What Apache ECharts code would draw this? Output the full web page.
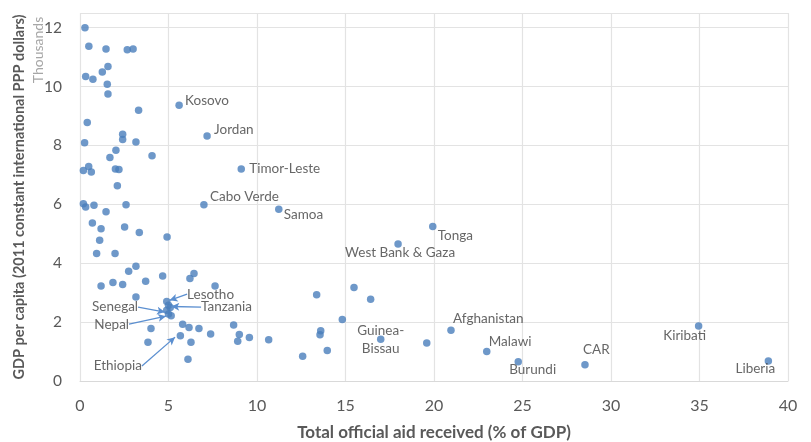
<!DOCTYPE html>
<html>
<head>
<meta charset="utf-8">
<script src="https://cdn.jsdelivr.net/npm/echarts@6/dist/echarts.min.js"></script>
<style>
  html, body { margin: 0; padding: 0; background: #fff; }
  #chart { width: 811px; height: 442px; }
</style>
</head>
<body>
<div id="chart"></div>
<script>
// unlabelled countries: aid (% of GDP), GDP per capita (thousands)
var aidPct = [0.28, 0.5, 1.47, 2.67, 3.0, 1.58, 1.26, 0.32, 0.73, 1.54, 1.58, 3.31, 0.41, 2.41, 2.41, 0.26, 3.16, 2.03, 1.69, 4.07,
  0.49, 0.19, 0.64, 2.0, 2.2, 2.11, 0.19, 0.32, 0.79, 2.6, 1.47, 0.7, 1.19, 2.52, 3.35, 4.92, 1.11, 0.94, 1.98, 3.16,
  2.75, 4.67, 6.44, 6.21, 3.71, 1.86, 2.41, 1.19, 7.63, 3.16, 4.9, 5.0, 5.1, 4.9, 5.0, 5.15, 8.68, 5.8, 6.16, 6.72,
  4.01, 7.38, 9.0, 8.91, 9.57, 5.67, 6.27, 3.84, 6.1, 13.37, 15.48, 16.42, 14.82, 13.6, 13.56, 10.66, 12.58, 13.97, 19.59];
var gdpK = [12.0, 11.37, 11.28, 11.25, 11.28, 10.68, 10.5, 10.34, 10.25, 10.08, 9.75, 9.2, 8.78, 8.38, 8.2, 8.09, 8.12, 7.84, 7.59, 7.65,
  7.29, 7.15, 7.1, 7.2, 7.18, 6.63, 6.02, 5.91, 5.97, 5.99, 5.75, 5.37, 5.17, 5.23, 5.04, 4.89, 4.78, 4.33, 4.33, 3.9,
  3.73, 3.57, 3.65, 3.48, 3.39, 3.35, 3.28, 3.23, 3.23, 2.85, 2.7, 2.57, 2.5, 2.4, 2.28, 2.22, 1.9, 1.93, 1.82, 1.78,
  1.78, 1.6, 1.58, 1.35, 1.48, 1.54, 1.32, 1.32, 0.74, 2.93, 3.18, 2.78, 2.09, 1.71, 1.57, 1.4, 0.84, 1.04, 1.29];

// labelled countries
var namedCountries = ['Kosovo', 'Jordan', 'Timor-Leste', 'Cabo Verde', 'Samoa', 'Tonga', 'West Bank & Gaza', 'Guinea-\nBissau',
  'Afghanistan', 'Malawi', 'Burundi', 'CAR', 'Kiribati', 'Liberia'];
var namedAid = [5.6, 7.18, 9.11, 7.0, 11.23, 19.93, 17.97, 16.99, 20.96, 22.98, 24.76, 28.53, 34.95, 38.89];
var namedGdp = [9.37, 8.32, 7.2, 5.99, 5.83, 5.25, 4.65, 1.42, 1.72, 1.0, 0.65, 0.55, 1.87, 0.68];

// arrowed notes: text anchor and arrow tip
var noteNames = ['Lesotho', 'Tanzania', 'Senegal', 'Nepal', 'Ethiopia'];
var noteTextAid = [6.05, 6.84, 3.28, 2.77, 3.5];
var noteTextGdp = [2.95, 2.51, 2.51, 1.93, 0.51];
var noteTipAid = [5.06, 5.16, 4.8, 4.86, 5.37];
var noteTipGdp = [2.74, 2.53, 2.34, 2.2, 1.49];

var xTicks = [0, 5, 10, 15, 20, 25, 30, 35, 40];
var yTicks = [0, 2, 4, 6, 8, 10, 12];

// label placement: [align, dx, dy]
var labelPlace = {
  'Kosovo': ['left', 6, -5], 'Jordan': ['left', 7, -6], 'Timor-Leste': ['left', 8, 0], 'Cabo Verde': ['left', 6, -8],
  'Samoa': ['left', 5, 5], 'Tonga': ['left', 5, 9], 'West Bank & Gaza': ['center', 2, 9], 'Guinea-\nBissau': ['center', 0, 0],
  'Afghanistan': ['left', 2, -12], 'Malawi': ['left', 2, -10], 'Burundi': ['left', -9, 8], 'CAR': ['left', -2, -15],
  'Kiribati': ['center', -14, 10], 'Liberia': ['center', -13, 8]
};

var dotColor = '#4a7ebb';
var textColor = '#404040';
var font = 'Lato, "Open Sans", sans-serif';

var dom = document.getElementById('chart');
var myChart = echarts.init(dom);

var plain = [];
for (var i = 0; i < aidPct.length; i++) plain.push([aidPct[i], gdpK[i]]);

var named = [];
for (var j = 0; j < namedCountries.length; j++) {
  var p = labelPlace[namedCountries[j]];
  named.push({
    name: namedCountries[j],
    value: [namedAid[j], namedGdp[j]],
    label: { align: p[0], offset: [p[1], p[2]] }
  });
}

var notes = [];
var arrows = [];
for (var k = 0; k < noteNames.length; k++) {
  var right = noteTextAid[k] > noteTipAid[k];
  notes.push({
    name: noteNames[k],
    value: [noteTextAid[k], noteTextGdp[k]],
    label: { align: right ? 'left' : 'right' }
  });
  arrows.push([{ coord: [noteTextAid[k], noteTextGdp[k]] }, { coord: [noteTipAid[k], noteTipGdp[k]] }]);
}

option = {
  animation: false,
  textStyle: { fontFamily: font },
  grid: { left: 80, right: 23, top: 13, bottom: 61, containLabel: false, outerBoundsMode: 'none' },
  xAxis: {
    type: 'value',
    min: 0, max: 40, interval: 5,
    name: 'Total official aid received (% of GDP)',
    nameLocation: 'middle',
    nameGap: 43,
    nameTextStyle: { color: '#595959', fontSize: 17, fontWeight: 'bold', fontFamily: font },
    axisLine: { show: true, lineStyle: { color: '#d9d9d9' } },
    axisTick: { show: false },
    axisLabel: { color: '#595959', fontSize: 16, margin: 17, fontFamily: font,
      formatter: function (v) { return xTicks.indexOf(v) >= 0 ? v : ''; } },
    splitLine: { show: true, lineStyle: { color: '#e3e3e3', width: 1.2 } }
  },
  yAxis: {
    type: 'value',
    min: 0, max: 12.5, interval: 2,
    name: 'GDP per capita (2011 constant international PPP dollars)',
    nameLocation: 'middle',
    nameGap: 53,
    nameTextStyle: { color: '#595959', fontSize: 14.5, fontWeight: 'bold', fontFamily: font },
    axisLine: { show: false },
    axisTick: { show: false },
    axisLabel: { color: '#595959', fontSize: 15.5, margin: 18, fontFamily: font,
      formatter: function (v) { return yTicks.indexOf(v) >= 0 ? v : ''; } },
    splitLine: { show: true, lineStyle: { color: '#e3e3e3', width: 1.2 } }
  },
  graphic: [{
    type: 'text',
    x: 38, y: 50,
    rotation: Math.PI / 2,
    style: { text: 'Thousands', fill: '#a6a6a6', fontSize: 14, fontFamily: font, align: 'center', verticalAlign: 'middle' }
  }],
  series: [
    {
      type: 'scatter',
      symbolSize: 7.5,
      itemStyle: { color: dotColor },
      data: plain,
      z: 3
    },
    {
      type: 'scatter',
      symbolSize: 7.5,
      itemStyle: { color: dotColor },
      label: {
        show: true,
        position: 'inside',
        verticalAlign: 'middle',
        color: textColor,
        fontSize: 13.5,
        lineHeight: 18,
        fontFamily: font,
        formatter: '{b}'
      },
      data: named,
      z: 3
    },
    {
      type: 'scatter',
      symbolSize: 0,
      silent: true,
      label: {
        show: true,
        position: 'inside',
        verticalAlign: 'middle',
        color: textColor,
        fontSize: 13.5,
        fontFamily: font,
        formatter: '{b}'
      },
      data: notes,
      markLine: {
        silent: true,
        symbol: ['none', 'arrow'],
        symbolSize: [6, 8],
        label: { show: false },
        lineStyle: { color: '#5b8fd0', width: 1.3, type: 'solid' },
        data: arrows
      },
      z: 4
    }
  ]
};

myChart.setOption(option);
</script>
</body>
</html>
